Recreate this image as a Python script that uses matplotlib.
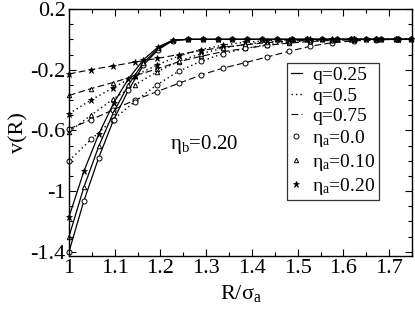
import matplotlib
matplotlib.use("Agg")
import matplotlib.pyplot as plt
from matplotlib.lines import Line2D
from matplotlib.ticker import MultipleLocator, FixedLocator

plt.rcParams['font.family'] = ['Liberation Serif', 'DejaVu Serif']
plt.rcParams['mathtext.fontset'] = 'custom'
plt.rcParams['mathtext.rm'] = 'Liberation Serif'
plt.rcParams['mathtext.it'] = 'Liberation Serif'

# ---- data ----
# q = 0.25 (solid), dense grid
x_solid = [1.0, 1.0325, 1.065, 1.0975, 1.13, 1.1625, 1.195, 1.2275, 1.26, 1.2925,
           1.325, 1.3575, 1.39, 1.4225, 1.455, 1.4875, 1.52, 1.5525, 1.585, 1.6175,
           1.65, 1.6825, 1.715, 1.7475]
v_q025_eta00 = [-1.40, -1.065, -0.78, -0.53, -0.335, -0.17, -0.068, -0.008] + [0.0] * 16
v_q025_eta10 = [-1.30, -0.975, -0.705, -0.48, -0.30, -0.155, -0.06, -0.006] + [0.0] * 16
v_q025_eta20 = [-1.17, -0.87, -0.625, -0.42, -0.26, -0.135, -0.05, -0.004] + [0.0] * 16

# q = 0.5 (dotted) and q = 0.75 (dashed), sparser grid
x_sparse = [1.0, 1.048, 1.096, 1.144, 1.192, 1.24, 1.288, 1.336, 1.384, 1.432,
            1.48, 1.528, 1.576, 1.624, 1.672, 1.72, 1.75]
v_q05_eta00 = [-0.80, -0.66, -0.53, -0.41, -0.30, -0.21, -0.145, -0.095, -0.06, -0.035,
               -0.018, -0.008, -0.003, 0.0, 0.0, 0.0, 0.0]
v_q05_eta10 = [-0.61, -0.50, -0.395, -0.30, -0.215, -0.145, -0.095, -0.058, -0.033, -0.017,
               -0.008, -0.003, 0.0, 0.0, 0.0, 0.0, 0.0]
v_q05_eta20 = [-0.49, -0.40, -0.32, -0.24, -0.17, -0.11, -0.068, -0.038, -0.02, -0.009,
               -0.003, 0.0, 0.0, 0.0, 0.0, 0.0, 0.0]
v_q075_eta00 = [-0.59, -0.53, -0.465, -0.40, -0.345, -0.29, -0.236, -0.19, -0.155, -0.117,
                -0.08, -0.045, -0.022, -0.01, -0.003, 0.0, 0.0]
v_q075_eta10 = [-0.37, -0.325, -0.285, -0.24, -0.195, -0.148, -0.112, -0.082, -0.06, -0.04,
                -0.025, -0.014, -0.007, -0.003, 0.0, 0.0, 0.0]
v_q075_eta20 = [-0.228, -0.2, -0.175, -0.15, -0.126, -0.1, -0.074, -0.052, -0.036, -0.022,
                -0.012, -0.006, -0.002, 0.0, 0.0, 0.0, 0.0]

q_labels = ['q=0.25', 'q=0.5', 'q=0.75']
eta_labels = ['$\\mathregular{η_a}$=0.0', '$\\mathregular{η_a}$=0.10', '$\\mathregular{η_a}$=0.20']
x_ticks = [1.0, 1.1, 1.2, 1.3, 1.4, 1.5, 1.6, 1.7]
x_ticklabels = ['1', '1.1', '1.2', '1.3', '1.4', '1.5', '1.6', '1.7']
y_ticks = [0.2, -0.2, -0.6, -1.0, -1.4]
y_ticklabels = ['0.2', '-0.2', '-0.6', '-1', '-1.4']

# ---- figure ----
fig = plt.figure(figsize=(4.15, 3.15), dpi=100)
W, H = 415, 315
L, R, T, B = 69, 412, 9, 256
ax = fig.add_axes([L / W, 1 - B / H, (R - L) / W, (B - T) / H])

styles = {'solid': '-', 'dot': (0, (1, 2.2)), 'dash': (0, (6, 3))}
mk = {'c': dict(marker='o', markersize=3.6, markerfacecolor='white', markeredgewidth=0.7),
      't': dict(marker='^', markersize=3.2, markerfacecolor='white', markeredgewidth=0.7),
      's': dict(marker='*', markersize=4.5, markerfacecolor='black', markeredgewidth=0.5)}

def draw(x, v, ls, m, lw):
    ax.plot(x, v, color='black', linestyle=ls, linewidth=lw, markeredgecolor='black',
            markevery=slice(0, len(x) - (1 if len(x) == len(x_sparse) else 0)), **mk[m],
            clip_on=False)

draw(x_sparse, v_q075_eta00, styles['dash'], 'c', 0.8)
draw(x_sparse, v_q075_eta10, styles['dash'], 't', 0.8)
draw(x_sparse, v_q075_eta20, styles['dash'], 's', 0.8)
draw(x_sparse, v_q05_eta00, styles['dot'], 'c', 1.0)
draw(x_sparse, v_q05_eta10, styles['dot'], 't', 1.0)
draw(x_sparse, v_q05_eta20, styles['dot'], 's', 1.0)
draw(x_solid, v_q025_eta00, styles['solid'], 'c', 0.9)
draw(x_solid, v_q025_eta10, styles['solid'], 't', 0.9)
draw(x_solid, v_q025_eta20, styles['solid'], 's', 0.9)

ax.set_xlim(1.0, 1.75)
ax.set_ylim(-1.428, 0.2)
ax.xaxis.set_major_locator(FixedLocator(x_ticks))
ax.set_xticklabels(x_ticklabels)
ax.xaxis.set_minor_locator(MultipleLocator(0.05))
ax.yaxis.set_major_locator(FixedLocator(y_ticks))
ax.set_yticklabels(y_ticklabels)
ax.yaxis.set_minor_locator(MultipleLocator(0.1))
ax.tick_params(which='both', direction='in', top=True, right=True, labelsize=16, width=0.8)
ax.tick_params(which='major', length=5, pad=2.5)
ax.tick_params(which='minor', length=2.8)
for s in ax.spines.values():
    s.set_linewidth(1.0)

ax.set_xlabel('R/$\\mathregular{σ_a}$', fontsize=16, labelpad=3)
ax.set_ylabel('v(R)', fontsize=16, labelpad=1)

ax.text(1.22, -0.72, '$\\mathregular{η_b}$=0.20', fontsize=15, ha='left', va='baseline')

handles = [Line2D([], [], color='black', linestyle=styles['solid'], linewidth=0.9),
           Line2D([], [], color='black', linestyle=styles['dot'], linewidth=1.0),
           Line2D([], [], color='black', linestyle=styles['dash'], linewidth=0.8),
           Line2D([], [], color='black', linestyle='none', markeredgecolor='black', **mk['c']),
           Line2D([], [], color='black', linestyle='none', markeredgecolor='black', **mk['t']),
           Line2D([], [], color='black', linestyle='none', markeredgecolor='black', **mk['s'])]
leg = ax.legend(handles, q_labels + eta_labels, loc='upper left',
                bbox_to_anchor=((287 - L) / (R - L), (B - 63) / (B - T)),
                borderaxespad=0, fontsize=14, frameon=True, fancybox=False,
                handlelength=0.6, handletextpad=0.5, labelspacing=0.15, borderpad=0.18)
leg.get_frame().set_edgecolor('black')
leg.get_frame().set_linewidth(0.9)

fig.savefig('out.png', dpi=100)
